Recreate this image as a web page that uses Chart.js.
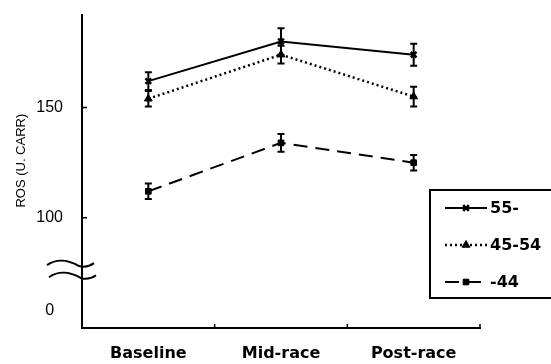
<!DOCTYPE html>
<html>
<head>
<meta charset="utf-8">
<script src="https://cdn.jsdelivr.net/npm/chart.js@4/dist/chart.umd.min.js"></script>
<style>
  html, body { margin: 0; padding: 0; background: #fff; }
  #wrap { width: 551px; height: 364px; }
</style>
</head>
<body>
<div id="wrap"><canvas id="chart"></canvas></div>
<script>
// data
const categories = ['Baseline', 'Mid-race', 'Post-race'];
const seriesLabels = ['55-', '45-54', '-44'];
const ros55 = [162, 180, 174];
const err55 = [4, 6, 5];
const ros45 = [154, 174, 155];
const err45 = [3.5, 4, 4.5];
const ros44 = [112, 134, 125];
const err44 = [3.5, 4, 3.5];
// broken axis: the "0" tick sits below the break
const yTickValues = [58, 100, 150];
const yTickLabels = ['0  ', '100', '150'];

const errors = [err55, err45, err44];

// error bars, axis break, inner ticks and the boxed legend
const extras = {
  id: 'extras',
  afterDatasetsDraw(chart) {
    const ctx = chart.ctx;
    const y = chart.scales.y;
    ctx.save();
    ctx.strokeStyle = '#000';
    ctx.lineWidth = 2;
    ctx.setLineDash([]);
    chart.data.datasets.forEach((ds, i) => {
      const meta = chart.getDatasetMeta(i);
      meta.data.forEach((pt, j) => {
        const e = errors[i][j];
        const top = y.getPixelForValue(ds.data[j] + e);
        const bot = y.getPixelForValue(ds.data[j] - e);
        ctx.beginPath();
        ctx.moveTo(pt.x, top); ctx.lineTo(pt.x, bot);
        ctx.moveTo(pt.x - 3.5, top); ctx.lineTo(pt.x + 3.5, top);
        ctx.moveTo(pt.x - 3.5, bot); ctx.lineTo(pt.x + 3.5, bot);
        ctx.stroke();
      });
    });
    ctx.restore();
  },
  afterDraw(chart) {
    const ctx = chart.ctx;
    const x = chart.scales.x;
    const y = chart.scales.y;
    const area = chart.chartArea;
    ctx.save();
    ctx.strokeStyle = '#000';
    ctx.lineWidth = 1.5;

    // inner tick marks
    ctx.beginPath();
    [100, 150].forEach(v => {
      const py = y.getPixelForValue(v);
      ctx.moveTo(area.left, py); ctx.lineTo(area.left + 5, py);
    });
    for (let i = 0; i < categories.length; i++) {
      const px = i < categories.length - 1
        ? (x.getPixelForValue(i) + x.getPixelForValue(i + 1)) / 2
        : area.right;
      ctx.moveTo(px, area.bottom); ctx.lineTo(px, area.bottom - 4);
    }
    ctx.stroke();

    // axis break squiggles
    ctx.lineWidth = 2;
    [79, 73.5].forEach((v, k) => {
      const py = y.getPixelForValue(v);
      const x0 = 47 + k * 2;
      ctx.beginPath();
      ctx.moveTo(x0, py + 1);
      ctx.bezierCurveTo(x0 + 10, py - 6, x0 + 22, py - 4, x0 + 32, py + 2);
      ctx.quadraticCurveTo(x0 + 40, py + 4, x0 + 47, py - 1);
      ctx.stroke();
    });

    // legend box
    const bx = 430, by = 190, bb = 298;
    ctx.fillStyle = '#fff';
    ctx.fillRect(bx, by, 551 - bx, bb - by);
    ctx.lineWidth = 2;
    ctx.beginPath();
    ctx.moveTo(552, by); ctx.lineTo(bx, by); ctx.lineTo(bx, bb); ctx.lineTo(552, bb);
    ctx.stroke();

    chart.data.datasets.forEach((ds, i) => {
      const ly = 208 + i * 37;
      ctx.strokeStyle = '#000';
      ctx.lineWidth = ds.borderWidth;
      ctx.setLineDash(ds.borderDash || []);
      ctx.beginPath();
      ctx.moveTo(445, ly); ctx.lineTo(487, ly);
      ctx.stroke();
      ctx.setLineDash([]);
      ctx.fillStyle = '#000';
      ctx.lineWidth = ds.pointBorderWidth;
      Chart.helpers.drawPoint(ctx, {
        pointStyle: ds.pointStyle, rotation: 0,
        radius: ds.pointRadius, borderWidth: ds.pointBorderWidth
      }, 466, ly);
      ctx.fillStyle = '#000';
      ctx.font = 'bold 16px "DejaVu Sans"';
      ctx.textBaseline = 'middle';
      ctx.textAlign = 'left';
      ctx.fillText(ds.label, 490, ly + 1);
    });
    ctx.restore();
  }
};

new Chart(document.getElementById('chart'), {
  type: 'line',
  data: {
    labels: categories,
    datasets: [
      {
        label: seriesLabels[0], data: ros55,
        borderColor: '#000', borderWidth: 2,
        pointStyle: 'crossRot', pointRadius: 4, pointBorderWidth: 2.5,
        pointBorderColor: '#000', pointBackgroundColor: '#000'
      },
      {
        label: seriesLabels[1], data: ros45,
        borderColor: '#000', borderWidth: 2.5, borderDash: [2, 3],
        pointStyle: 'triangle', pointRadius: 4.5, pointBorderWidth: 1,
        pointBorderColor: '#000', pointBackgroundColor: '#000'
      },
      {
        label: seriesLabels[2], data: ros44,
        borderColor: '#000', borderWidth: 2, borderDash: [14, 8],
        pointStyle: 'rect', pointRadius: 4, pointBorderWidth: 1,
        pointBorderColor: '#000', pointBackgroundColor: '#000'
      }
    ]
  },
  options: {
    responsive: true,
    maintainAspectRatio: false,
    animation: false,
    layout: { padding: { left: 0, top: 15, right: 71, bottom: 0 } },
    plugins: {
      legend: { display: false },
      tooltip: { enabled: false }
    },
    elements: { line: { tension: 0 } },
    scales: {
      x: {
        offset: true,
        grid: { display: true, drawOnChartArea: false, drawTicks: false, offset: true },
        border: { display: true, color: '#000', width: 2 },
        ticks: {
          color: '#000', padding: 16,
          font: { family: '"DejaVu Sans"', size: 16, weight: 'bold' }
        },
        afterFit(scale) { scale.height = 36; scale.paddingLeft = 0; scale.paddingRight = 0; }
      },
      y: {
        min: 50,
        max: 192,
        grid: { display: true, drawOnChartArea: false, drawTicks: false },
        border: { display: true, color: '#000', width: 2 },
        afterBuildTicks(scale) {
          scale.ticks = yTickValues.map(v => ({ value: v }));
        },
        ticks: {
          color: '#000', padding: 19,
          font: { family: '"Liberation Sans"', size: 16 },
          callback: v => yTickLabels[yTickValues.indexOf(v)]
        },
        title: {
          display: true, text: '      ROS (U. CARR)', color: '#000',
          padding: { top: 14, bottom: 0 },
          font: { family: '"Liberation Sans"', size: 13 }
        },
        afterFit(scale) { scale.width = 82; scale.paddingTop = 0; scale.paddingBottom = 0; }
      }
    }
  },
  plugins: [extras]
});
</script>
</body>
</html>
